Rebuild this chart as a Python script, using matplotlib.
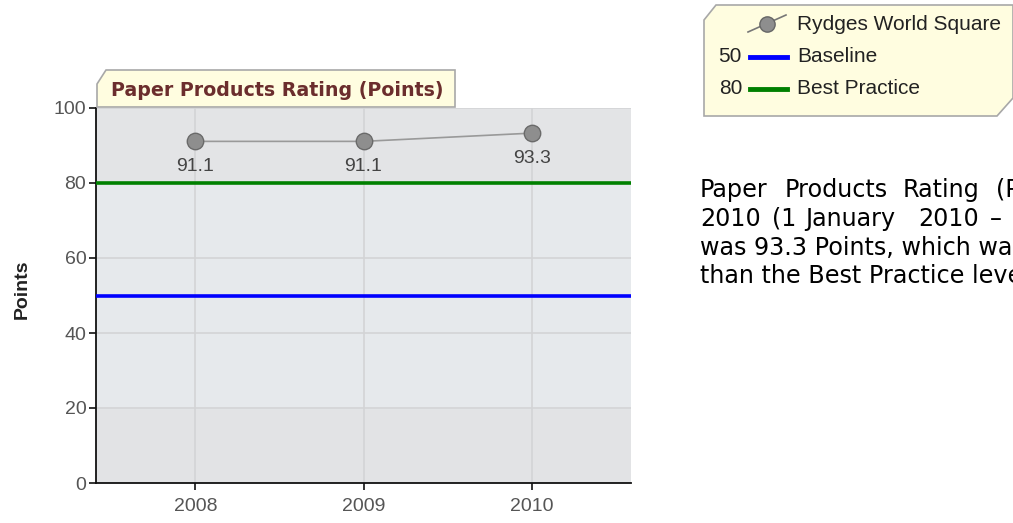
import matplotlib
matplotlib.use("Agg")
import matplotlib.pyplot as plt
from matplotlib.patches import Polygon
from matplotlib.lines import Line2D

W, H = 1013, 523
years = [2008, 2009, 2010]
values = [91.1, 91.1, 93.3]
series_name = "Rydges World Square"
ref_names = ["Baseline", "Best Practice"]
ref_values = [50, 80]
ref_colors = ["#0000ff", "#008000"]
yticks = [0, 20, 40, 60, 80, 100]
title = "Paper Products Rating (Points)"
ylabel = "Points"
para_lines = [
    ["Paper", "Products", "Rating", "(Points)", "for"],
    ["2010", "(1", "January", "2010", "\u2013", "31", "December"],
    ["was 93.3 Points, which was higher"],
    ["than the Best Practice level of 80 Points."],
]
para_x = [
    [700, 785, 903, 996, 1120],
    [700, 772, 805, 918, 990, 1030, 1080],
    [700],
    [700],
]
para_baseline = [197, 226, 255, 283]

fig = plt.figure(figsize=(W / 100, H / 100), dpi=100)
fig.patch.set_facecolor("white")


def fx(px):
    return px / W


def fy(py):
    return 1 - py / H


L, R, T, B = 96, 631, 108, 483
ax = fig.add_axes([fx(L), fy(B), fx(R) - fx(L), fy(T) - fy(B)])
ax.set_facecolor("#e2e3e5")
ax.set_xlim(2007.41, 2010.59)
ax.set_ylim(0, 100)
ax.axhspan(20, 80, color="#e6e9ec", zorder=0)
ax.axhspan(80, 100, color="#e3e4e6", zorder=0)
ax.set_yticks(yticks)
ax.set_xticks(years)
ax.grid(True, color="#d3d4d6", lw=1.2, zorder=1)
ax.set_axisbelow(True)
for s in ["top", "right"]:
    ax.spines[s].set_visible(False)
for s in ["left", "bottom"]:
    ax.spines[s].set_color("#111111")
    ax.spines[s].set_linewidth(1.3)
ax.tick_params(axis="both", direction="out", length=5, width=1.2, color="#111111",
               labelcolor="#555555", labelsize=14)
for lbl in ax.get_xticklabels() + ax.get_yticklabels():
    lbl.set_fontfamily("Liberation Sans")
ax.tick_params(axis="x", pad=6)
ax.tick_params(axis="y", pad=2)

for v, c in zip(ref_values, ref_colors):
    ax.axhline(v, color=c, lw=2.6, zorder=3)

ax.plot(years, values, color="#999999", lw=1.2, zorder=4)
ax.scatter(years, values, s=140, color="#8e8e8e", edgecolor="#6a6a6a", linewidths=1.0, zorder=5)
for x, v in zip(years, values):
    ax.annotate(f"{v:.1f}", (x, v), xytext=(0, -18), textcoords="offset points",
                ha="center", va="center", fontsize=14, color="#444444",
                family="Liberation Sans")

fig.text(fx(22), fy(289), ylabel, rotation=90, ha="center", va="center",
         fontsize=14, fontweight="bold", family="Liberation Sans", color="#222222")

# title tab
tab = [(97, 107), (97, 84), (106, 70), (455, 70), (455, 107)]
fig.patches.append(Polygon([(fx(a), fy(b)) for a, b in tab], closed=True,
                           facecolor="#fffde0", edgecolor="#a8a8a8", lw=1.2,
                           transform=fig.transFigure, zorder=5))
fig.text(fx(111), fy(90), title, ha="left", va="center", fontsize=13.7,
         fontweight="bold", color="#6b2d2d", family="DejaVu Sans", zorder=10)

# legend box
lb = [(704, 116), (704, 20), (716, 5), (1013, 5), (1013, 98), (997, 116)]
fig.patches.append(Polygon([(fx(a), fy(b)) for a, b in lb], closed=True,
                           facecolor="#fffde0", edgecolor="#a8a8a8", lw=1.2,
                           transform=fig.transFigure, zorder=5))
row_y = [24, 57, 89]
fig.lines.append(Line2D([fx(748), fx(786)], [fy(32), fy(15)], color="#777777", lw=1.2,
                        transform=fig.transFigure, zorder=6))
fig.lines.append(Line2D([fx(767)], [fy(24)], marker="o", ms=11, color="#8e8e8e",
                        markeredgecolor="#666666", transform=fig.transFigure, zorder=7))
fig.text(fx(797), fy(row_y[0]), series_name, ha="left", va="center", fontsize=15,
         color="#222222", family="Liberation Sans", zorder=8)
for i, (n, v, c) in enumerate(zip(ref_names, ref_values, ref_colors)):
    yy = row_y[i + 1]
    fig.text(fx(742), fy(yy), str(v), ha="right", va="center", fontsize=15,
             color="#222222", family="Liberation Sans", zorder=8)
    fig.lines.append(Line2D([fx(750), fx(787)], [fy(yy), fy(yy)], color=c, lw=3.5,
                            transform=fig.transFigure, zorder=7))
    fig.text(fx(797), fy(yy), n, ha="left", va="center", fontsize=15,
             color="#222222", family="Liberation Sans", zorder=8)

# paragraph
for words, xs, yb in zip(para_lines, para_x, para_baseline):
    for w, x in zip(words, xs):
        fig.text(fx(x), fy(yb), w, ha="left", va="baseline", fontsize=17.2,
                 color="#000000", family="DejaVu Sans")

fig.savefig("out.png", dpi=100)
